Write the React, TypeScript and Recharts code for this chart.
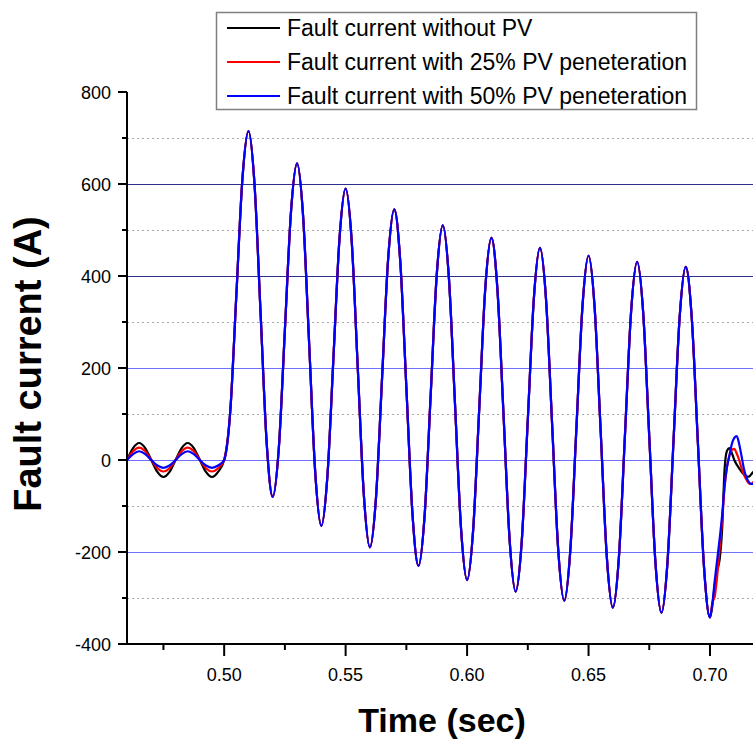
import React from 'react';
import { LineChart, Line, XAxis, YAxis, CartesianGrid } from 'recharts';

// Time samples (s)
const preFaultTime = [0.46, 0.4625, 0.465, 0.4675, 0.47, 0.4725, 0.475, 0.4775, 0.48, 0.4825, 0.485, 0.4875, 0.49, 0.4925, 0.495, 0.4975];
const faultTime = [
  0.5, 0.5025, 0.505, 0.5075,
  0.51, 0.5125, 0.515, 0.5175, 0.52, 0.5225, 0.525, 0.5275,
  0.53, 0.5325, 0.535, 0.5375, 0.54, 0.5425, 0.545, 0.5475,
  0.55, 0.5525, 0.555, 0.5575, 0.56, 0.5625, 0.565, 0.5675,
  0.57, 0.5725, 0.575, 0.5775, 0.58, 0.5825, 0.585, 0.5875,
  0.59, 0.5925, 0.595, 0.5975, 0.6, 0.6025, 0.605, 0.6075,
  0.61, 0.6125, 0.615, 0.6175, 0.62, 0.6225, 0.625, 0.6275,
  0.63, 0.6325, 0.635, 0.6375, 0.64, 0.6425, 0.645, 0.6475,
  0.65, 0.6525, 0.655, 0.6575, 0.66, 0.6625, 0.665, 0.6675,
  0.67, 0.6725, 0.675, 0.6775, 0.68, 0.6825, 0.685, 0.6875,
  0.69, 0.6925, 0.695, 0.6975, 0.7,
];
const clearTime = [0.701, 0.702, 0.703, 0.704, 0.705, 0.706, 0.707, 0.708, 0.709, 0.71, 0.711, 0.712, 0.713, 0.714, 0.715, 0.716, 0.717, 0.718];

// Pre-fault current (A)
const preWithoutPV = [0, 26, 37, 26, 0, -26, -37, -26, 0, 26, 37, 26, 0, -26, -37, -26];
const pre25 = [0, 19, 27, 19, 0, -18, -25, -18, 0, 19, 27, 19, 0, -18, -25, -18];
const pre50 = [0, 13, 19, 13, 0, -12, -17, -12, 0, 13, 19, 13, 0, -12, -17, -12];

// Fault current (A), identical for all three cases
const faultCurrent = [
  0, 105, 357, 610,
  715, 599, 318, 37, -80, 26, 283, 539,
  645, 530, 251, -28, -143, -35, 224, 483,
  590, 476, 200, -76, -190, -82, 178, 437,
  545, 431, 158, -116, -230, -122, 140, 402,
  510, 397, 125, -148, -261, -152, 111, 374,
  483, 370, 99, -173, -286, -177, 88, 352,
  461, 349, 78, -194, -306, -196, 69, 334,
  444, 332, 62, -209, -321, -211, 55, 321,
  431, 320, 50, -220, -332, -222, 44, 310,
  420, 308, 39, -230, -342,
];

// After fault clearing (A)
const clearWithoutPV = [-315, -270, -240, -215, -150, -20, 20, 26, 15, 0, -10, -18, -26, -32, -36, -36, -31, -25];
const clear25 = [-310, -295, -250, -190, -130, -60, -15, 10, 22, 24, 14, 0, -18, -32, -43, -51, -52, -47];
const clear50 = [-310, -260, -215, -170, -120, -55, -15, 10, 35, 48, 52, 35, 8, -20, -38, -48, -52, -52];

const xTicks = [0.475, 0.5, 0.525, 0.55, 0.575, 0.6, 0.625, 0.65, 0.675, 0.7];
const yTicks = [-400, -300, -200, -100, 0, 100, 200, 300, 400, 500, 600, 700, 800];

const legendLabels = [
  'Fault current without PV',
  'Fault current with 25% PV peneteration',
  'Fault current with 50% PV peneteration',
];
const colors = ['#000000', '#ff0000', '#0000ff'];

const build = (pre: number[], clear: number[]) => [
  ...preFaultTime.map((t, i) => ({ t, v: pre[i] })),
  ...faultTime.map((t, i) => ({ t, v: faultCurrent[i] })),
  ...clearTime.map((t, i) => ({ t, v: clear[i] })),
];

const seriesData = [
  build(preWithoutPV, clearWithoutPV),
  build(pre25, clear25),
  build(pre50, clear50),
];

const FONT = '"Liberation Sans", Arial, sans-serif';

const XTick = (props: any) => {
  const { x, y, payload } = props;
  const major = Math.round(payload.value * 1000) % 50 === 0;
  return (
    <g>
      <line x1={x} y1={y} x2={x} y2={y + (major ? 12 : 6)} stroke="#000" strokeWidth={2} />
      {major && (
        <text x={x} y={y + 37} textAnchor="middle" fontSize={18} fontFamily={FONT} fill="#000">
          {payload.value.toFixed(2)}
        </text>
      )}
    </g>
  );
};

const YTick = (props: any) => {
  const { x, y, payload } = props;
  const major = payload.value % 200 === 0;
  return (
    <g>
      <line x1={x - (major ? 9 : 5)} y1={y} x2={x} y2={y} stroke="#000" strokeWidth={2} />
      {major && (
        <text x={x - 16} y={y + 6.5} textAnchor="end" fontSize={18} fontFamily={FONT} fill="#000">
          {payload.value}
        </text>
      )}
    </g>
  );
};

export default function App() {
  return (
    <div style={{ position: 'absolute', left: 0, top: 0, width: 753, height: 741, overflow: 'hidden', background: '#fff' }}>
      <LineChart width={753} height={741} margin={{ top: 92, right: 0, bottom: 0, left: 0 }}>
        <CartesianGrid vertical={false} horizontalValues={[700, 500, 300, 100, -100, -300]} stroke="#a8a8a8" strokeDasharray="2 3" shapeRendering="crispEdges" />
        <CartesianGrid vertical={false} horizontalValues={[600, 400]} stroke="#2e2e8c" shapeRendering="crispEdges" />
        <CartesianGrid vertical={false} horizontalValues={[200, 0, -200]} stroke="#7070ff" shapeRendering="crispEdges" />
        <XAxis
          type="number"
          dataKey="t"
          domain={[0.46, 0.7177]}
          allowDataOverflow
          ticks={xTicks}
          interval={0}
          height={97}
          tickSize={0}
          tickMargin={0}
          tickLine={false}
          tick={<XTick />}
          axisLine={{ stroke: '#000', strokeWidth: 2 }}
        />
        <YAxis
          type="number"
          dataKey="v"
          domain={[-400, 800]}
          ticks={yTicks}
          interval={0}
          width={127}
          tickSize={0}
          tickMargin={0}
          tickLine={false}
          tick={<YTick />}
          axisLine={{ stroke: '#000', strokeWidth: 2 }}
        />
        {seriesData.map((d, i) => (
          <Line
            key={i}
            data={d}
            dataKey="v"
            type="monotone"
            stroke={colors[i]}
            strokeWidth={2.2}
            dot={false}
            isAnimationActive={false}
          />
        ))}
      </LineChart>
      <svg width={753} height={741} style={{ position: 'absolute', left: 0, top: 0, pointerEvents: 'none' }}>
        <rect x={216.5} y={12.5} width={480} height={97} fill="#fff" stroke="#808080" strokeWidth={1.5} />
        {legendLabels.map((label, i) => (
          <g key={i}>
            <line x1={227} x2={280} y1={28 + i * 34} y2={28 + i * 34} stroke={colors[i]} strokeWidth={2} />
            <text x={287} y={36 + i * 34} fontSize={23} fontFamily={FONT} fill="#000">
              {label}
            </text>
          </g>
        ))}
        <text x={442} y={732} textAnchor="middle" fontSize={34} fontWeight="bold" fontFamily={FONT} fill="#000">
          Time (sec)
        </text>
        <text
          x={0}
          y={0}
          transform="translate(41 364) rotate(-90)"
          textAnchor="middle"
          fontSize={38}
          fontWeight="bold"
          fontFamily={FONT}
          fill="#000"
        >
          Fault current (A)
        </text>
      </svg>
    </div>
  );
}
